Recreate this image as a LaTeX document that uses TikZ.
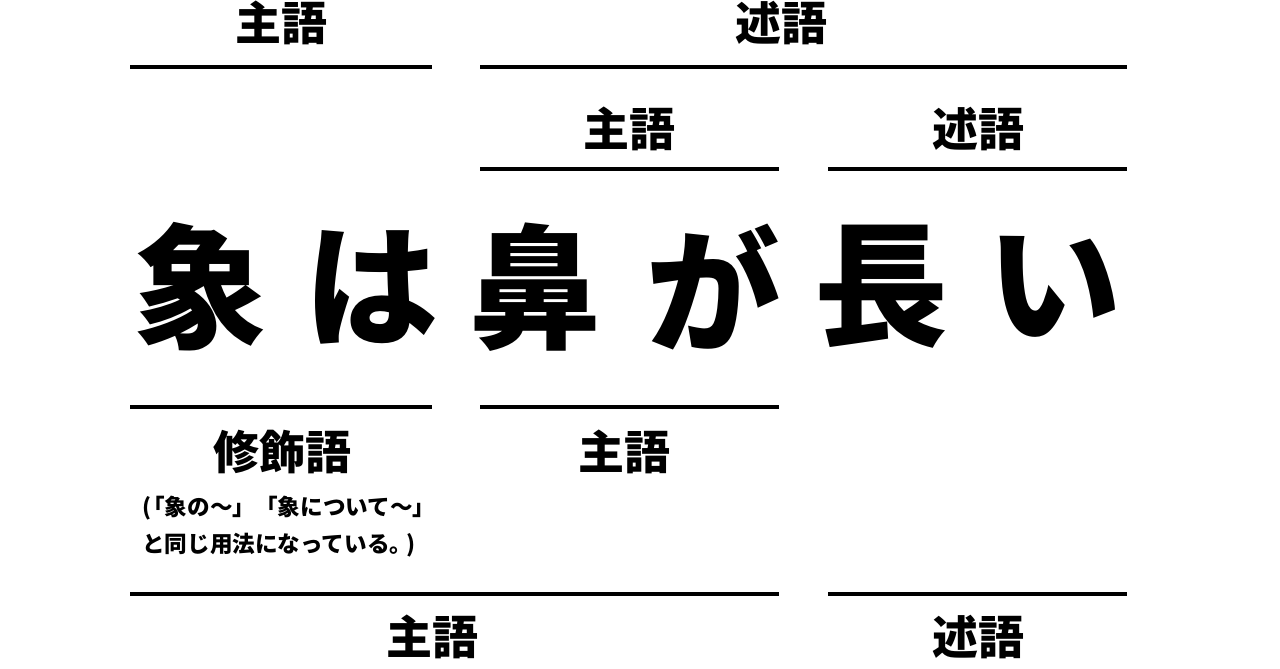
\documentclass[tikz,border=0pt]{standalone}
\usepackage{fontspec}
\newfontfamily\cjk{Noto Sans CJK JP}
\begin{document}
\begin{tikzpicture}[x=1pt,y=-1pt,
  rule/.style={line width=4pt, line cap=butt, black},
  lbl/.style={inner sep=0pt, font={\cjk\bfseries\fontsize{46}{46}\selectfont}},
  big/.style={inner sep=0pt, font={\cjk\bfseries\fontsize{134}{134}\selectfont}},
  note/.style={inner sep=0pt, anchor=west, font={\cjk\bfseries\fontsize{22.6}{22.6}\selectfont}}]
\useasboundingbox[fill=white] (0,0) rectangle (1280,669);
% row 1
\node[lbl] (s1) at (281,23) {主語};
\node[lbl] (p1) at (781,23) {述語};
\draw[rule] (130,67) coordinate (a1) -- (432,67) coordinate (b1);
\draw[rule] (480,67) coordinate (a2) -- (1127,67) coordinate (b2);
% row 2
\node[lbl] (s2) at (629,129) {主語};
\node[lbl] (p2) at (978,129) {述語};
\draw[rule] (480,169) coordinate (a3) -- (779,169) coordinate (b3);
\draw[rule] (828,169) coordinate (a4) -- (1127,169) coordinate (b4);
% main sentence
\node[big] (c1) at (200,287) {象};
\node[big] (c2) at (371,287) {は};
\node[big] (c3) at (535,287) {鼻};
\node[big] (c4) at (713,287) {が};
\node[big] (c5) at (881,287) {長};
\node[big] (c6) at (1054,287) {い};
% row 3
\draw[rule] (130,407) coordinate (a5) -- (432,407) coordinate (b5);
\draw[rule] (480,407) coordinate (a6) -- (779,407) coordinate (b6);
\node[lbl] (m3) at (282,452) {修飾語};
\node[lbl] (s3) at (624,452) {主語};
\node[note] (n3a) at (142,508) {(\kern-0.4em「象の～」「象について～」};
\node[note] (n3b) at (142,545) {と同じ用法になっている。\kern-0.25em)};
% row 4
\draw[rule] (130,594) coordinate (a7) -- (779,594) coordinate (b7);
\draw[rule] (828,594) coordinate (a8) -- (1127,594) coordinate (b8);
\node[lbl] (s4) at (432,637) {主語};
\node[lbl] (p4) at (978,637) {述語};
\end{tikzpicture}
\end{document}
